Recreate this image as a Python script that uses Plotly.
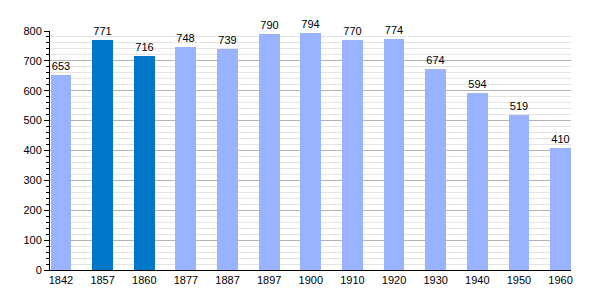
import plotly.graph_objects as go

years = ["1842", "1857", "1860", "1877", "1887", "1897", "1900", "1910", "1920", "1930", "1940", "1950", "1960"]
population = [653, 771, 716, 748, 739, 790, 794, 770, 774, 674, 594, 519, 410]
highlight = [False, True, True, False, False, False, False, False, False, False, False, False, False]

light = "#99b3ff"
dark = "#0077c8"
colors = [dark if h else light for h in highlight]
xs = list(range(len(years)))

fig = go.Figure(go.Bar(
    x=xs, y=population, marker=dict(color=colors, line=dict(width=0)),
    width=0.5, text=[str(v) for v in population], textposition="outside",
    textfont=dict(size=11, color="black", family="Liberation Sans, Arial"),
    cliponaxis=False,
))

fig.update_layout(
    width=600, height=300, margin=dict(l=50, r=29, t=31, b=30),
    plot_bgcolor="white", paper_bgcolor="white",
    font=dict(family="Liberation Sans, Arial", size=11, color="black"),
    showlegend=False, bargap=0,
    xaxis=dict(range=[-0.264, 12.25], tickmode="array", tickvals=xs, ticktext=years,
               showgrid=False, showline=True, linecolor="black", linewidth=1,
               ticks="", zeroline=False, fixedrange=True),
    yaxis=dict(range=[0, 800], dtick=100, showgrid=True, gridcolor="#b4b4b4", gridwidth=1,
               showline=True, linecolor="black", linewidth=1, ticks="outside", ticklen=5,
               tickcolor="black", zeroline=False,
               minor=dict(dtick=20, showgrid=True, gridcolor="#e4e4e4", ticks="outside",
                          ticklen=3, tickcolor="black")),
)

fig.write_html("out.html")
